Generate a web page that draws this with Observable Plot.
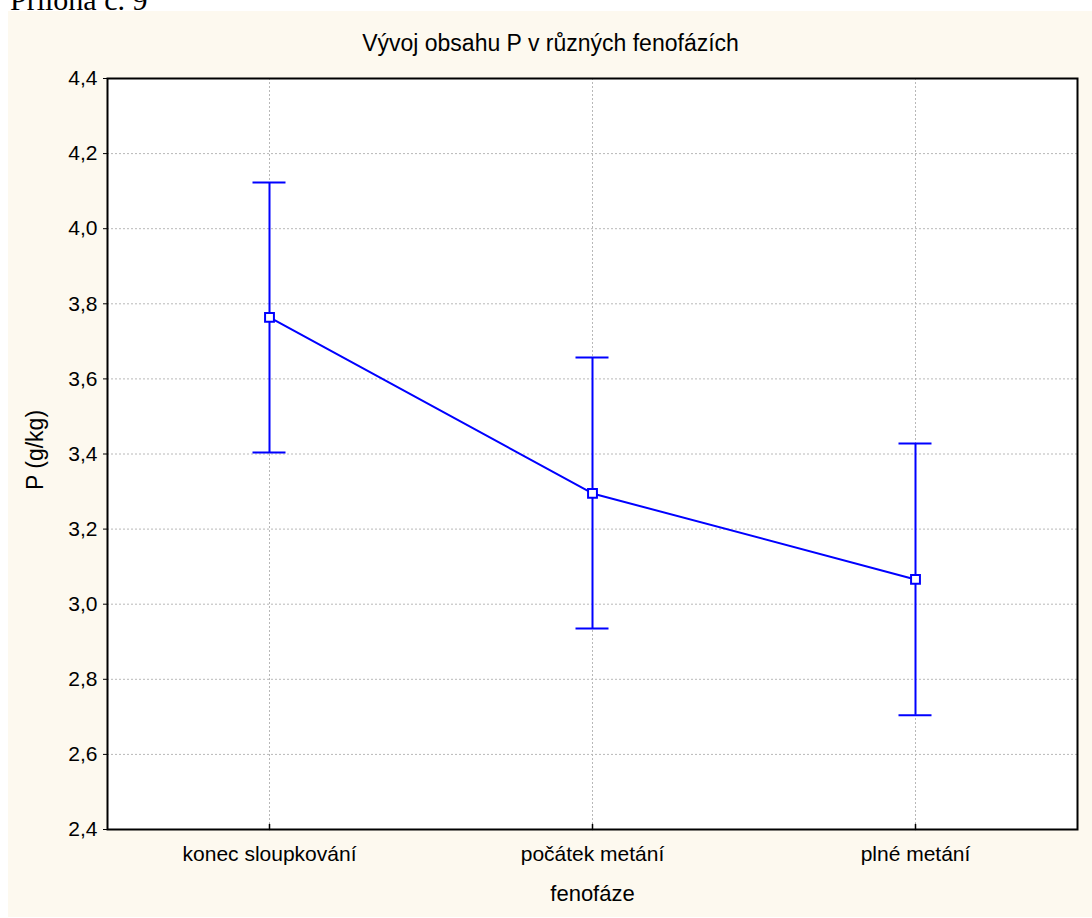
<!DOCTYPE html>
<html>
<head>
<meta charset="utf-8">
<script src="https://cdn.jsdelivr.net/npm/d3@7"></script>
<script src="https://cdn.jsdelivr.net/npm/@observablehq/plot@0.6"></script>
<style>
  html, body { margin: 0; padding: 0; background: white; }
  #page { position: relative; width: 1092px; height: 918px; overflow: hidden; background: white; }
  #head { position: absolute; left: 0; top: 0; }
  #panel { position: absolute; left: 8px; top: 11px; width: 1084px; height: 906px; background: #fdf9ef; }
</style>
</head>
<body>
<div id="page">
  <svg id="head" width="1092" height="11"><text x="10" y="10" font-family="Liberation Serif, Times New Roman, serif" font-size="30" fill="black">Příloha č. 9</text></svg>
  <div id="panel"></div>
</div>
<script>
const phases = ["konec sloupkování", "počátek metání", "plné metání"];
const means = [3.764, 3.295, 3.066];
const lower = [3.404, 2.935, 2.704];
const upper = [4.123, 3.657, 3.428];
const yTicks = [2.4, 2.6, 2.8, 3.0, 3.2, 3.4, 3.6, 3.8, 4.0, 4.2, 4.4];
const titleText = "Vývoj obsahu P v různých fenofázích";
const xLabel = "fenofáze";
const yLabel = "P (g/kg)";

const data = phases.map((p, i) => ({phase: p, mean: means[i], lo: lower[i], hi: upper[i]}));
const blue = "#0000ff";
const fmt = d => d.toFixed(1).replace(".", ",");

const chart = Plot.plot({
  width: 1084,
  height: 906,
  marginLeft: 99,
  marginTop: 67,
  marginRight: 15,
  marginBottom: 88,
  style: {background: "transparent", fontFamily: "Liberation Sans, Arial, sans-serif", fontSize: "21px", color: "black", overflow: "visible"},
  x: {type: "point", domain: phases, padding: 0.5, label: null},
  y: {domain: [2.4, 4.4], label: null},
  marks: [
    Plot.frame({fill: "white", stroke: null}),
    Plot.gridY(yTicks, {stroke: "#b8b8b8", strokeOpacity: 1, strokeDasharray: "2,2"}),
    Plot.gridX(phases, {stroke: "#b8b8b8", strokeOpacity: 1, strokeDasharray: "2,2"}),
    Plot.axisY(yTicks, {tickSize: 4, tickPadding: 6, tickFormat: fmt, fontSize: 21, stroke: "black", label: null}),
    Plot.axisX(phases, {tickSize: 0, tickPadding: 17, fontSize: 21, label: null, style: "letter-spacing:0.4px"}),
    Plot.vector(phases, {x: d => d, frameAnchor: "bottom", length: 5, anchor: "start", stroke: "black", strokeWidth: 1.5,
      shape: {draw(ctx, l) { ctx.moveTo(0, 0); ctx.lineTo(0, -l); }}}),
    Plot.ruleX(data, {x: "phase", y1: "lo", y2: "hi", stroke: blue, strokeWidth: 2}),
    Plot.ruleY(data, {x1: "phase", x2: "phase", y: "lo", stroke: blue, strokeWidth: 2, insetLeft: -16.5, insetRight: -16.5}),
    Plot.ruleY(data, {x1: "phase", x2: "phase", y: "hi", stroke: blue, strokeWidth: 2, insetLeft: -16.5, insetRight: -16.5}),
    Plot.line(data, {x: "phase", y: "mean", stroke: blue, strokeWidth: 2}),
    Plot.dot(data, {x: "phase", y: "mean", symbol: "square", r: 5, fill: "white", stroke: blue, strokeWidth: 2}),
    Plot.frame({stroke: "black", strokeWidth: 2}),
    Plot.text([titleText], {frameAnchor: "top", textAnchor: "middle", dx: -42, dy: -44, lineAnchor: "top", fontSize: 23, fill: "black", style: "letter-spacing:0.5px"}),
    Plot.text([xLabel], {frameAnchor: "bottom", textAnchor: "middle", dy: 56, lineAnchor: "top", fontSize: 22, fill: "black", style: "letter-spacing:0.9px"}),
    Plot.text([yLabel], {frameAnchor: "left", textAnchor: "middle", dx: -72, dy: -4, rotate: -90, lineAnchor: "middle", fontSize: 23, fill: "black", style: "letter-spacing:0.5px"})
  ]
});
document.getElementById("panel").appendChild(chart);
</script>
</body>
</html>
